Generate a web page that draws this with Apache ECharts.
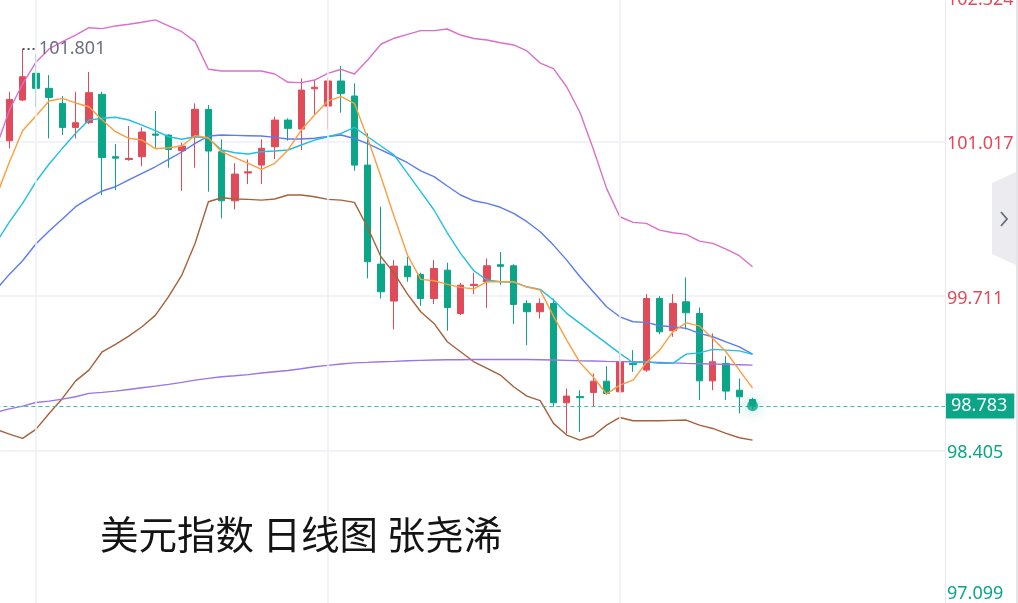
<!DOCTYPE html>
<html><head><meta charset="utf-8">
<script src="https://cdn.jsdelivr.net/npm/echarts@6/dist/echarts.min.js"></script>
<style>html,body{margin:0;padding:0;background:#fff}#c{width:1018px;height:603px}</style>
</head><body><div id="c"></div>
<script>
// ---- data ----
const titleText = '美元指数 日线图 张尧浠';
const tickLabels = ['97.099', '98.405', '99.711', '101.017', '102.324'];
const lastPrice = 98.783;
const maxHigh = 101.801;
const monthStartIdx = [2, 24, 46];
// candles: [open, close, low, high]
const candles = [
[101.025,101.375,100.961,101.440],[101.370,101.567,101.360,101.801],[101.596,101.469,101.313,101.759],
[101.469,101.392,101.045,101.581],[101.341,101.138,101.073,101.404],[101.138,101.178,101.045,101.440],
[101.178,101.432,101.166,101.607],[101.418,100.884,100.565,101.440],[100.890,100.878,100.608,100.997],
[100.866,100.876,100.856,101.150],[100.890,101.099,100.811,101.138],[101.082,101.072,100.966,101.277],
[101.073,100.952,100.797,101.080],[100.941,100.980,100.602,101.009],[101.059,101.291,100.797,101.342],
[101.291,100.938,100.594,101.328],[100.932,100.517,100.368,101.037],[100.517,100.743,100.444,100.834],
[100.752,100.762,100.659,100.867],[100.819,100.961,100.659,101.037],[100.975,101.200,100.870,101.229],
[101.200,101.130,101.026,101.215],[101.124,101.454,100.946,101.553],[101.465,101.478,101.251,101.539],
[101.319,101.531,101.121,101.559],[101.531,101.426,101.262,101.658],[101.404,100.819,100.771,101.511],
[100.819,100.001,99.860,101.088],[99.981,99.747,99.690,100.467],[99.668,99.964,99.428,100.015],
[99.964,99.874,99.832,100.043],[99.894,99.690,99.628,99.908],[99.690,99.944,99.643,100.015],
[99.930,99.614,99.417,99.992],[99.563,99.803,99.549,99.823],[99.800,99.810,99.727,99.908],
[99.832,99.967,99.611,100.029],[99.976,99.962,99.803,100.083],[99.967,99.640,99.473,99.980],
[99.648,99.578,99.295,99.676],[99.578,99.648,99.521,99.690],[99.648,98.807,98.773,99.690],
[98.807,98.864,98.547,98.928],[98.860,98.850,98.561,98.914],[98.895,98.990,98.773,99.055],
[98.990,98.886,98.872,99.117],[98.900,99.154,98.892,99.225],[99.140,99.130,99.069,99.253],
[99.084,99.690,99.069,99.727],[99.690,99.408,99.388,99.710],[99.417,99.648,99.366,99.727],
[99.662,99.569,99.428,99.868],[99.563,98.993,98.830,99.614],[98.993,99.154,98.914,99.394],
[99.140,98.906,98.830,99.202],[98.914,98.858,98.717,99.013],[98.835,98.783,98.745,98.850]
];
// indicator lines (first value belongs to the bar just left of the view)
const ma5 = [100.547,100.844,101.110,101.235,101.362,101.384,101.345,101.313,101.201,101.102,101.046,101.031,100.958,100.966,100.981,101.070,101.048,100.932,100.883,100.834,100.783,100.834,100.947,101.116,101.243,101.362,101.398,101.342,101.046,100.721,100.382,100.058,99.852,99.840,99.810,99.784,99.771,99.832,99.832,99.833,99.787,99.761,99.541,99.338,99.147,99.025,98.882,98.957,98.999,99.147,99.253,99.410,99.484,99.458,99.352,99.239,99.084,98.931];
const ma10 = [100.159,100.337,100.495,100.678,100.828,100.961,101.088,101.201,101.215,101.224,101.201,101.158,101.110,101.059,101.038,101.059,101.046,100.947,100.924,100.913,100.932,100.938,100.947,100.989,101.031,101.059,101.088,101.139,101.059,100.981,100.904,100.749,100.594,100.439,100.246,100.072,99.925,99.846,99.832,99.826,99.789,99.767,99.677,99.564,99.479,99.395,99.310,99.225,99.146,99.154,99.141,99.141,99.219,99.230,99.259,99.253,99.247,99.217];
const bollMid = [99.765,99.894,100.009,100.151,100.261,100.362,100.467,100.538,100.600,100.636,100.693,100.749,100.805,100.868,100.930,101.003,101.065,101.074,101.071,101.068,101.065,101.054,101.040,101.040,101.046,101.061,101.074,101.044,101.000,100.947,100.896,100.839,100.771,100.721,100.642,100.566,100.517,100.495,100.462,100.411,100.340,100.255,100.142,100.015,99.874,99.747,99.620,99.535,99.493,99.488,99.459,99.451,99.437,99.395,99.366,99.323,99.281,99.219];
const bollUpper = [100.964,101.283,101.506,101.689,101.802,101.864,101.920,101.982,101.974,101.997,102.011,102.028,102.048,101.997,101.948,101.864,101.630,101.616,101.616,101.616,101.616,101.590,101.520,101.517,101.539,101.596,101.630,101.590,101.709,101.842,101.893,101.926,101.957,101.957,101.971,101.920,101.891,101.878,101.855,101.836,101.785,101.683,101.635,101.480,101.264,100.955,100.622,100.382,100.334,100.326,100.269,100.246,100.233,100.176,100.157,100.108,100.052,99.958];
const bollLower = [98.582,98.542,98.506,98.582,98.717,98.844,98.993,99.084,99.239,99.302,99.372,99.451,99.547,99.705,99.888,100.157,100.509,100.543,100.532,100.529,100.523,100.532,100.566,100.566,100.551,100.529,100.523,100.504,100.291,100.043,99.903,99.727,99.578,99.479,99.324,99.239,99.154,99.098,99.042,98.943,98.864,98.826,98.633,98.534,98.491,98.528,98.618,98.683,98.655,98.655,98.655,98.658,98.661,98.618,98.590,98.548,98.511,98.491];
const maLong = [98.728,98.756,98.779,98.810,98.821,98.838,98.858,98.887,98.895,98.906,98.920,98.934,98.948,98.963,98.980,98.999,99.014,99.027,99.036,99.046,99.059,99.070,99.081,99.095,99.112,99.124,99.135,99.145,99.149,99.154,99.158,99.163,99.166,99.169,99.171,99.172,99.174,99.174,99.174,99.174,99.173,99.171,99.169,99.166,99.163,99.161,99.158,99.156,99.154,99.151,99.148,99.145,99.141,99.138,99.135,99.132,99.129,99.126];
const emptySlots = 14;
const categories = [];
for (let i = -1; i < candles.length + emptySlots; i++) categories.push('K' + i);

// ---- chart ----
const RED = '#e04b5a', GREEN = '#0ba588';
const FONT = '"Noto Sans", "Liberation Sans", sans-serif';
const catOf = i => categories[i + 1];
const chart = echarts.init(document.getElementById('c'));
const tickVals = tickLabels.map(Number);
function lineSeries(name, data, color) {
  return { name, type: 'line', data, symbol: 'none', z: 4, silent: true,
    lineStyle: { color, width: 1.4 }, itemStyle: { color } };
}
const option = {
  animation: false,
  backgroundColor: '#ffffff',
  title: { text: titleText, left: 100, top: 515, padding: 0,
    textStyle: { fontSize: 38.5, fontWeight: 'normal', color: '#141414', fontFamily: '"Noto Sans CJK SC", sans-serif' } },
  grid: { left: -10.6, right: 73, top: -12.7, height: 617.3, containLabel: false, outerBoundsMode: 'none' },
  xAxis: { type: 'category', data: categories, boundaryGap: true,
    axisLine: { show: false }, axisTick: { show: false }, axisLabel: { show: false }, splitLine: { show: false } },
  yAxis: { type: 'value', position: 'right', min: 97.099, max: 102.324, interval: 1.30625,
    axisLine: { show: true, lineStyle: { color: '#e8e8ee', width: 1 } },
    axisTick: { show: false },
    splitLine: { lineStyle: { color: '#eeeff4', width: 1.5 } },
    axisLabel: { margin: 2, showMinLabel: true, showMaxLabel: true,
      formatter: function (v) {
        let b = 0;
        for (let i = 1; i < tickVals.length; i++) if (Math.abs(v - tickVals[i]) < Math.abs(v - tickVals[b])) b = i;
        const st = b === 4 ? 'top' : b === 0 ? 'bot' : b >= 2 ? 'up' : 'dn';
        return '{' + st + '|' + tickLabels[b] + '}';
      },
      rich: {
        top: { color: RED, fontSize: 18, fontFamily: FONT, padding: [26, 0, 0, 0] },
        up: { color: RED, fontSize: 18, fontFamily: FONT, padding: [5, 0, 0, 0] },
        dn: { color: GREEN, fontSize: 18, fontFamily: FONT, padding: [6, 0, 0, 0] },
        bot: { color: GREEN, fontSize: 18, fontFamily: FONT, padding: [0, 0, 22, 0] }
      } } },
  graphic: [
    { type: 'rect', shape: { x: 1016, y: 0, width: 2, height: 603 }, style: { fill: '#e4e4e9' }, silent: true },
    { type: 'polygon', shape: { points: [[1016, 172], [992, 183], [992, 254], [1016, 265]] }, style: { fill: '#ebebf0' }, silent: true },
    { type: 'polyline', shape: { points: [[1001, 212], [1007, 219], [1001, 226]] }, style: { stroke: '#676b7a', lineWidth: 1.8, fill: null }, silent: true }
  ],
  series: [
    { name: 'grid', type: 'line', data: [], z: 1, silent: true,
      markLine: { silent: true, symbol: ['none', 'none'], label: { show: false },
        lineStyle: { color: '#eeeff4', width: 1.5, type: 'solid' },
        data: monthStartIdx.map(i => ({ xAxis: catOf(i) })) } },
    { name: 'K', type: 'candlestick', z: 3, silent: true, barWidth: 7,
      data: [['-', '-', '-', '-']].concat(candles),
      itemStyle: { color: RED, color0: GREEN, borderColor: RED, borderColor0: GREEN, borderWidth: 1 },
      markLine: { silent: true, symbol: ['none', 'none'],
        lineStyle: { type: [4, 3], color: '#35c3a6', width: 1 },
        data: [
        { yAxis: lastPrice, lineStyle: { type: [4, 3], color: '#35c3a6', width: 1 },
          label: { show: true, position: 'end', distance: 1, formatter: lastPrice.toFixed(3),
            backgroundColor: GREEN, color: '#ffffff', fontSize: 18, fontFamily: FONT, padding: [4, 7, 3, 5] } },
        [ { coord: [catOf(1), maxHigh], lineStyle: { type: [2, 3], color: '#555a66', width: 2 },
            label: { show: true, position: 'end', distance: 3, formatter: maxHigh.toFixed(3),
              color: '#6b6f80', fontSize: 18, fontFamily: FONT } },
          { coord: [catOf(2), maxHigh] } ]
      ] } },
    lineSeries('BOLL上轨', bollUpper, '#da6fca'),
    lineSeries('BOLL下轨', bollLower, '#a5613a'),
    lineSeries('MA60', maLong, '#9b74e6'),
    lineSeries('BOLL中轨', bollMid, '#5b7bf2'),
    lineSeries('MA10', ma10, '#22bfdf'),
    lineSeries('MA5', ma5, '#fb9d3f'),
    { name: 'last', type: 'scatter', z: 6, silent: true, symbolSize: 11,
      data: [[catOf(candles.length - 1), lastPrice]],
      itemStyle: { color: GREEN, shadowBlur: 14, shadowColor: 'rgba(11,165,136,0.6)' } }
  ]
};
chart.setOption(option);
</script></body></html>
